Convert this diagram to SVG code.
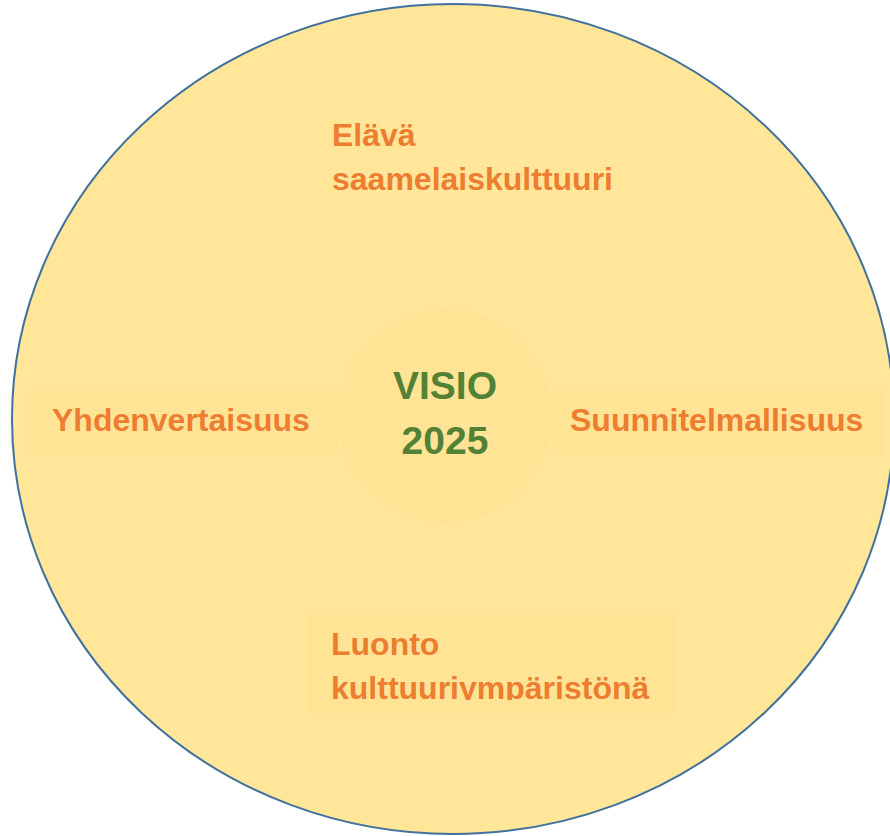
<svg xmlns="http://www.w3.org/2000/svg" width="890" height="836" viewBox="0 0 890 836">
<style>
.lbl{font-family:"Liberation Sans",Arial,sans-serif;font-weight:bold;font-size:32px;fill:#ED7D31}
.ctr{font-family:"Liberation Sans",Arial,sans-serif;font-weight:bold;font-size:39px;fill:#538135;text-anchor:middle}
.box{fill:#FFE393;opacity:0.6}
</style>
<defs>
<clipPath id="clipBottom"><rect x="308" y="614" width="367" height="86"/></clipPath>
</defs>
<g id="outer">
<ellipse cx="453" cy="419" rx="441" ry="415" fill="#FFE699" stroke="#41719C" stroke-width="2"/>
</g>
<g id="connectors"></g>
<g id="top-node">
<text class="lbl" x="332" y="146">Elävä</text>
<text class="lbl" x="332" y="190">saamelaiskulttuuri</text>
</g>
<g id="left-node">
<rect class="box" x="31" y="390" width="307" height="66"/>
<text class="lbl" x="52" y="431">Yhdenvertaisuus</text>
</g>
<g id="right-node">
<rect class="box" x="553" y="390" width="332" height="66"/>
<text class="lbl" x="570" y="431">Suunnitelmallisuus</text>
</g>
<g id="bottom-node">
<rect class="box" x="308" y="614" width="367" height="99"/>
<g clip-path="url(#clipBottom)">
<text class="lbl" x="331" y="655">Luonto</text>
<text class="lbl" x="331" y="699">kulttuuriympäristönä</text>
</g>
</g>
<g id="center-node">
<circle cx="445" cy="416" r="107" fill="#FFE393" opacity="0.7"/>
<text class="ctr" x="445" y="399">VISIO</text>
<text class="ctr" x="445" y="454">2025</text>
</g>
</svg>
